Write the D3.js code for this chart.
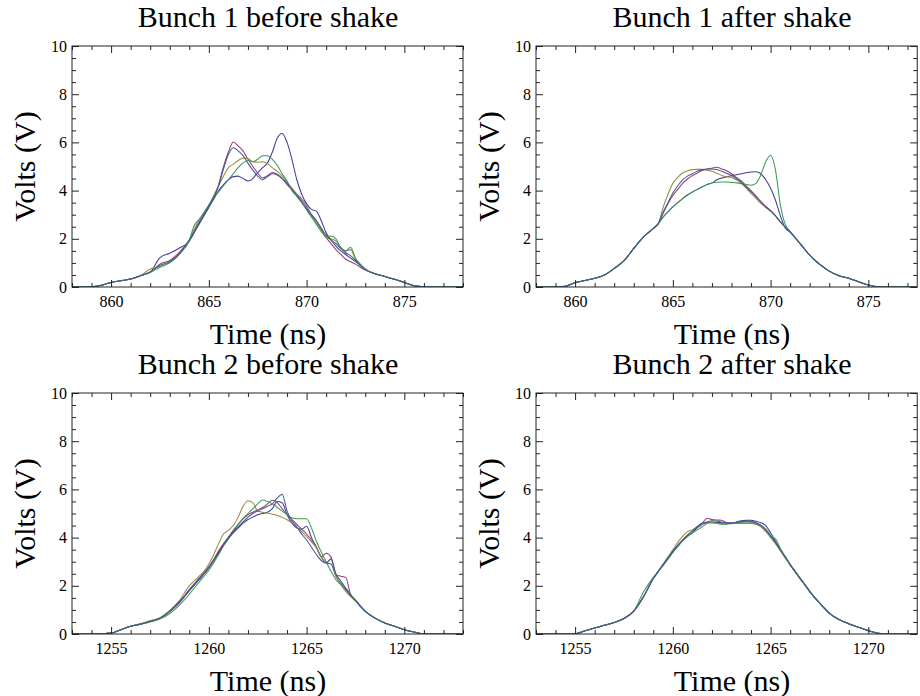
<!DOCTYPE html>
<html>
<head>
<meta charset="utf-8">
<script src="https://cdn.jsdelivr.net/npm/d3@7"></script>
<style>
  html, body { margin: 0; padding: 0; background: #fff; }
  svg text { font-family: "Liberation Serif", "Times New Roman", serif; fill: #000; }
</style>
</head>
<body>
<svg id="chart" width="920" height="696"></svg>
<script>
// ---------- DATA ----------
const timesBunch1 = [858, 858.5, 859, 859.5, 860, 860.5, 861, 861.5, 862, 862.5, 863, 863.5,
  864, 864.25, 864.5, 864.75, 865, 865.25, 865.5, 865.75, 866, 866.25, 866.5, 866.75,
  867, 867.25, 867.5, 867.75, 868, 868.25, 868.5, 868.75, 869, 869.25, 869.5, 869.75,
  870, 870.25, 870.5, 870.75, 871, 871.25, 871.5, 871.75, 872, 872.25, 872.5, 872.75, 873,
  873.5, 874, 874.5, 875, 875.5, 876, 876.5, 877, 878];
const timesBunch2 = [1253, 1253.5, 1254, 1254.5, 1255, 1255.5, 1256, 1256.5, 1257, 1257.5, 1258, 1258.5,
  1259, 1259.25, 1259.5, 1259.75, 1260, 1260.25, 1260.5, 1260.75, 1261, 1261.25, 1261.5, 1261.75,
  1262, 1262.25, 1262.5, 1262.75, 1263, 1263.25, 1263.5, 1263.75, 1264, 1264.25, 1264.5, 1264.75,
  1265, 1265.25, 1265.5, 1265.75, 1266, 1266.25, 1266.5, 1266.75, 1267, 1267.25, 1267.5, 1267.75, 1268,
  1268.5, 1269, 1269.5, 1270, 1270.5, 1271, 1271.5, 1272, 1273];

// Bunch 1 before shake (traces 1..5)
const b1Before1 = [0,0,0.01,0.07,0.19,0.26,0.33,0.47,0.62,1.22,1.4,1.62,
  1.9,2.25,2.6,2.95, 3.3,3.65,4.0,4.25, 4.45,4.58,4.6,4.5, 4.4,4.5,4.75,4.95, 5.15,5.6,6.18,6.37,
  6.0,5.3,4.45,3.85, 3.45,3.22,3.15,2.75, 2.25,1.95,1.7,1.5, 1.35,1.2,1.05,0.9, 0.74,
  0.55,0.44,0.32,0.19,0.05,0.01,0,0,0];
const b1Before2 = [0,0,0.01,0.07,0.19,0.26,0.33,0.47,0.62,0.95,1.1,1.45,
  1.95,2.3,2.7,3.05, 3.35,3.75,4.25,5.0, 5.6,6.02,5.85,5.65, 5.3,5.0,4.73,4.52, 4.62,4.75,4.68,4.5,
  4.25,4.05,3.85,3.65, 3.35,3.0,2.75,2.4, 2.05,1.8,1.55,1.35, 1.15,1.05,0.95,0.82, 0.7,
  0.55,0.44,0.32,0.19,0.05,0.01,0,0,0];
const b1Before3 = [0,0,0.01,0.07,0.19,0.26,0.33,0.47,0.75,0.85,1.02,1.4,
  1.9,2.4,2.75,3.05, 3.4,3.8,4.2,4.6, 4.95,5.1,5.25,5.35, 5.33,5.2,5.18,5.2, 5.12,4.95,4.8,4.6,
  4.35,4.1,3.85,3.55, 3.25,2.95,2.65,2.35, 2.05,2.0,1.9,1.65, 1.5,1.55,1.15,0.9, 0.72,
  0.55,0.44,0.32,0.19,0.05,0.01,0,0,0];
const b1Before4 = [0,0,0.01,0.07,0.19,0.26,0.33,0.47,0.6,0.82,1.0,1.35,
  1.95,2.55,2.8,3.1, 3.4,3.7,3.95,4.2, 4.45,4.7,4.95,5.15, 5.25,5.2,5.3,5.45, 5.45,5.3,5.05,4.7,
  4.4,4.0,3.75,3.5, 3.2,2.9,2.6,2.3, 2.1,2.12,2.0,1.6, 1.5,1.65,1.2,0.95, 0.75,
  0.55,0.44,0.32,0.19,0.05,0.01,0,0,0];
const b1Before5 = [0,0,0.01,0.07,0.19,0.26,0.33,0.47,0.62,0.9,1.05,1.4,
  1.95,2.3,2.65,3.0, 3.35,3.7,4.2,4.9, 5.5,5.78,5.65,5.45, 5.13,4.85,4.6,4.45, 4.58,4.7,4.65,4.5,
  4.3,4.05,3.8,3.55, 3.25,3.0,2.75,2.45, 2.15,1.95,1.8,1.6, 1.42,1.3,1.1,0.9, 0.72,
  0.55,0.44,0.32,0.19,0.05,0.01,0,0,0];

// Bunch 1 after shake
const b1After1 = [0,0,0,0.03,0.18,0.27,0.36,0.5,0.77,1.09,1.6,2.08,
  2.43,2.62,2.9,3.12, 3.32,3.5,3.67,3.82, 3.94,4.05,4.15,4.25, 4.32,4.45,4.52,4.57, 4.62,4.66,4.7,4.74,
  4.77,4.78,4.7,4.45, 4.1,3.6,2.95,2.45, 2.28,2.05,1.81,1.56, 1.32,1.12,0.95,0.8, 0.66,
  0.47,0.36,0.22,0.08,0.01,0,0,0,0];
const b1After2 = [0,0,0,0.03,0.18,0.27,0.36,0.5,0.77,1.09,1.6,2.08,
  2.43,2.62,3.05,3.45, 3.8,4.05,4.3,4.48, 4.62,4.73,4.83,4.9, 4.93,4.97,4.9,4.82, 4.7,4.55,4.4,4.2,
  4.0,3.78,3.55,3.35, 3.18,2.95,2.7,2.48, 2.29,2.05,1.81,1.56, 1.32,1.12,0.95,0.8, 0.66,
  0.47,0.36,0.22,0.08,0.01,0,0,0,0];
const b1After3 = [0,0,0,0.03,0.18,0.27,0.36,0.5,0.77,1.09,1.6,2.08,
  2.43,2.62,3.3,3.85, 4.3,4.55,4.73,4.82, 4.87,4.88,4.88,4.85, 4.8,4.72,4.63,4.58, 4.54,4.45,4.3,4.1,
  3.88,3.68,3.47,3.3, 3.15,2.95,2.7,2.5, 2.29,2.05,1.81,1.56, 1.32,1.12,0.95,0.8, 0.66,
  0.47,0.36,0.22,0.08,0.01,0,0,0,0];
const b1After4 = [0,0,0,0.03,0.18,0.27,0.36,0.5,0.77,1.09,1.6,2.08,
  2.43,2.62,2.9,3.12, 3.32,3.5,3.67,3.82, 3.94,4.05,4.15,4.25, 4.32,4.35,4.36,4.36, 4.34,4.32,4.29,4.25,
  4.22,4.3,4.65,5.2, 5.47,4.85,3.4,2.6, 2.3,2.05,1.81,1.56, 1.32,1.12,0.95,0.8, 0.66,
  0.47,0.36,0.22,0.08,0.01,0,0,0,0];
const b1After5 = [0,0,0,0.03,0.18,0.27,0.36,0.5,0.77,1.09,1.6,2.08,
  2.43,2.62,3.1,3.5, 3.9,4.2,4.45,4.6, 4.7,4.8,4.87,4.9, 4.9,4.88,4.8,4.72, 4.63,4.5,4.35,4.15,
  3.95,3.75,3.52,3.33, 3.15,2.95,2.7,2.48, 2.29,2.05,1.81,1.56, 1.32,1.12,0.95,0.8, 0.66,
  0.47,0.36,0.22,0.08,0.01,0,0,0,0];

// Bunch 2 before shake
const b2Before1 = [0,0,0,0.01,0.04,0.18,0.32,0.41,0.52,0.66,0.94,1.3,
  1.8,2.02,2.25,2.5, 2.75,3.05,3.4,3.7, 3.95,4.2,4.4,4.6, 4.75,4.85,4.95,5.0, 5.05,5.2,5.5,5.45,
  4.95,4.6,4.4,4.35, 4.47,4.0,3.6,3.2, 2.95,2.9,2.4,2.1, 1.85,1.6,1.38,1.15, 0.94,
  0.66,0.46,0.32,0.18,0.08,0.01,0,0,0];
const b2Before2 = [0,0,0,0.01,0.04,0.18,0.32,0.41,0.52,0.66,0.94,1.3,
  1.85,2.08,2.32,2.55, 2.8,3.1,3.45,3.75, 4.02,4.3,4.55,4.78, 4.95,5.05,5.15,5.25, 5.4,5.55,5.45,5.2,
  4.95,4.75,4.55,4.35, 4.15,3.9,3.6,3.2, 3.35,3.2,2.45,2.4, 2.35,1.65,1.42,1.18, 0.95,
  0.66,0.46,0.32,0.18,0.08,0.01,0,0,0];
const b2Before3 = [0,0,0,0.01,0.04,0.18,0.32,0.43,0.56,0.68,0.98,1.4,
  2.0,2.2,2.4,2.6, 2.9,3.3,3.75,4.15, 4.3,4.5,4.85,5.3, 5.53,5.45,5.1,5.05, 5.02,4.97,4.92,4.84,
  4.74,4.6,4.43,4.25, 4.05,3.82,3.57,3.2, 2.95,3.1,2.4,2.05, 1.77,1.55,1.36,1.15, 0.94,
  0.66,0.46,0.32,0.18,0.08,0.01,0,0,0];
const b2Before4 = [0,0,0,0.01,0.04,0.18,0.32,0.41,0.5,0.62,0.85,1.2,
  1.65,1.9,2.15,2.4, 2.65,2.95,3.3,3.65, 3.95,4.25,4.55,4.8, 5.0,5.2,5.4,5.56, 5.5,5.4,5.25,5.1,
  4.95,4.82,4.78,4.78, 4.78,4.4,3.85,3.4, 3.0,2.6,2.25,2.05, 1.9,1.65,1.4,1.15, 0.95,
  0.66,0.46,0.32,0.18,0.08,0.01,0,0,0];
const b2Before5 = [0,0,0,0.01,0.04,0.18,0.32,0.41,0.52,0.66,0.94,1.35,
  1.8,2.05,2.3,2.5, 2.75,3.05,3.35,3.7, 4.0,4.25,4.45,4.65, 4.85,5.0,5.1,5.2, 5.3,5.4,5.65,5.8,
  5.1,4.7,4.45,4.15, 3.9,3.6,3.3,3.05, 2.95,3.12,2.5,2.2, 1.9,1.62,1.38,1.15, 0.94,
  0.66,0.46,0.32,0.18,0.08,0.01,0,0,0];

// Bunch 2 after shake
const b2After1 = [0,0,0,0,0.01,0.13,0.25,0.36,0.48,0.64,0.95,1.55,
  2.3,2.58,2.85,3.12, 3.4,3.65,3.88,4.05, 4.2,4.4,4.55,4.62, 4.65,4.63,4.62,4.6, 4.6,4.65,4.7,4.72,
  4.72,4.68,4.62,4.5, 4.2,3.85,3.5,3.2, 2.88,2.6,2.32,2.05, 1.77,1.52,1.29,1.07, 0.87,
  0.6,0.43,0.28,0.14,0.03,0,0,0,0];
const b2After2 = [0,0,0,0,0.01,0.13,0.25,0.36,0.48,0.64,0.95,1.55,
  2.3,2.6,2.88,3.15, 3.43,3.68,3.9,4.1, 4.28,4.45,4.6,4.8, 4.75,4.73,4.72,4.62, 4.6,4.63,4.65,4.68,
  4.66,4.6,4.5,4.3, 4.05,3.78,3.48,3.18, 2.88,2.6,2.32,2.05, 1.77,1.52,1.29,1.07, 0.87,
  0.6,0.43,0.28,0.14,0.03,0,0,0,0];
const b2After3 = [0,0,0,0,0.01,0.13,0.25,0.36,0.48,0.64,0.95,1.55,
  2.3,2.6,2.9,3.2, 3.5,3.8,4.05,4.25, 4.32,4.45,4.62,4.64, 4.62,4.6,4.58,4.58, 4.6,4.6,4.6,4.6,
  4.6,4.55,4.45,4.25, 4.0,3.75,3.45,3.15, 2.85,2.58,2.3,2.03, 1.75,1.5,1.28,1.06, 0.86,
  0.6,0.43,0.28,0.14,0.03,0,0,0,0];
const b2After4 = [0,0,0,0,0.01,0.13,0.25,0.36,0.48,0.64,0.95,1.75,
  2.35,2.6,2.85,3.1, 3.38,3.62,3.85,4.05, 4.2,4.32,4.45,4.58, 4.62,4.6,4.55,4.56, 4.58,4.6,4.6,4.6,
  4.6,4.56,4.5,4.3, 4.05,3.95,3.55,3.2, 2.88,2.6,2.32,2.05, 1.77,1.52,1.29,1.07, 0.87,
  0.6,0.43,0.28,0.14,0.03,0,0,0,0];
const b2After5 = [0,0,0,0,0.01,0.13,0.25,0.36,0.48,0.64,0.95,1.55,
  2.3,2.6,2.88,3.15, 3.43,3.68,3.9,4.1, 4.28,4.45,4.6,4.65, 4.7,4.68,4.65,4.6, 4.6,4.63,4.67,4.7,
  4.68,4.62,4.52,4.35, 4.1,3.8,3.5,3.2, 2.88,2.6,2.32,2.05, 1.77,1.52,1.29,1.07, 0.87,
  0.6,0.43,0.28,0.14,0.03,0,0,0,0];

const panelTitles = ["Bunch 1 before shake", "Bunch 1 after shake", "Bunch 2 before shake", "Bunch 2 after shake"];
const xTicks1 = [860, 865, 870, 875];
const xTicks2 = [1255, 1260, 1265, 1270];
const yTicks = [0, 2, 4, 6, 8, 10];
const xLabel = "Time (ns)";
const yLabel = "Volts (V)";

// ---------- LAYOUT / STYLE ----------
const traceColors = ["#3f3d99", "#993d71", "#998b3d", "#3d9956", "#3d5a99"];
const PX_PER_NS = 19.55, H = 241, LABEL_CX = 196;
const panels = [
  {x0: 72,  y0: 46,  domain: [858, 878],     times: timesBunch1, ticks: xTicks1, series: [b1Before1, b1Before2, b1Before3, b1Before4, b1Before5]},
  {x0: 536, y0: 46,  domain: [858, 877.5],   times: timesBunch1, ticks: xTicks1, series: [b1After1, b1After2, b1After3, b1After4, b1After5]},
  {x0: 72,  y0: 393, domain: [1253, 1273],   times: timesBunch2, ticks: xTicks2, series: [b2Before1, b2Before2, b2Before3, b2Before4, b2Before5]},
  {x0: 536, y0: 393, domain: [1253, 1272.5], times: timesBunch2, ticks: xTicks2, series: [b2After1, b2After2, b2After3, b2After4, b2After5]}
];

const svg = d3.select("#chart");
const MAJ = 7, MIN = 4;

panels.forEach((p, pi) => {
  const W = (p.domain[1] - p.domain[0]) * PX_PER_NS;
  const g = svg.append("g").attr("transform", `translate(${p.x0},${p.y0})`);
  const x = d3.scaleLinear().domain(p.domain).range([0, W]);
  const y = d3.scaleLinear().domain([0, 10]).range([H, 0]);

  const clipId = "clip" + pi;
  g.append("clipPath").attr("id", clipId).append("rect").attr("width", W).attr("height", H);

  // traces
  const line = d3.line().x(d => x(d[0])).y(d => y(d[1])).curve(d3.curveMonotoneX);
  const lg = g.append("g").attr("clip-path", `url(#${clipId})`);
  p.series.forEach((vals, si) => {
    const pts = p.times.map((t, i) => [t, vals[i]]);
    lg.append("path").attr("d", line(pts)).attr("fill", "none")
      .attr("stroke", traceColors[si]).attr("stroke-width", 1.05).attr("stroke-linejoin", "round");
  });

  // minor tick values
  const xMinor = d3.range(Math.ceil(p.domain[0]), p.domain[1] + 0.001, 1).filter(v => !p.ticks.includes(v));
  const yMinor = d3.range(0, 10.001, 0.5).filter(v => !yTicks.includes(Math.round(v * 100) / 100));

  const styleAxis = sel => {
    sel.select(".domain").remove();
    sel.selectAll("line").attr("stroke", "#222").attr("stroke-width", 1);
    sel.selectAll("text").attr("font-size", 16).attr("fill", "#000");
  };

  // bottom
  g.append("g").attr("transform", `translate(0,${H})`)
    .call(d3.axisBottom(x).tickValues(p.ticks).tickSize(-MAJ).tickPadding(8.8).tickFormat(d3.format("d")))
    .call(styleAxis);
  g.append("g").attr("transform", `translate(0,${H})`)
    .call(d3.axisBottom(x).tickValues(xMinor).tickSize(-MIN).tickFormat(""))
    .call(styleAxis);
  // top
  g.append("g").call(d3.axisTop(x).tickValues(p.ticks).tickSize(-MAJ).tickFormat("")).call(styleAxis);
  g.append("g").call(d3.axisTop(x).tickValues(xMinor).tickSize(-MIN).tickFormat("")).call(styleAxis);
  // left
  g.append("g")
    .call(d3.axisLeft(y).tickValues(yTicks).tickSize(-MAJ).tickPadding(5).tickFormat(d3.format("d")))
    .call(styleAxis);
  g.append("g").call(d3.axisLeft(y).tickValues(yMinor).tickSize(-MIN).tickFormat("")).call(styleAxis);
  // right
  g.append("g").attr("transform", `translate(${W},0)`)
    .call(d3.axisRight(y).tickValues(yTicks).tickSize(-MAJ).tickFormat("")).call(styleAxis);
  g.append("g").attr("transform", `translate(${W},0)`)
    .call(d3.axisRight(y).tickValues(yMinor).tickSize(-MIN).tickFormat("")).call(styleAxis);

  // frame
  g.append("rect").attr("x", 0).attr("y", 0).attr("width", W).attr("height", H)
    .attr("fill", "none").attr("stroke", "#222").attr("stroke-width", 1);

  // title
  g.append("text").attr("x", LABEL_CX).attr("y", -19.5).attr("text-anchor", "middle")
    .attr("font-size", 30).text(panelTitles[pi]);
  // x label
  g.append("text").attr("x", LABEL_CX).attr("y", H + 57).attr("text-anchor", "middle")
    .attr("font-size", 30).text(xLabel);
  // y label
  g.append("text").attr("transform", `translate(-37,${H / 2}) rotate(-90)`)
    .attr("text-anchor", "middle").attr("font-size", 30).text(yLabel);
});
</script>
</body>
</html>
